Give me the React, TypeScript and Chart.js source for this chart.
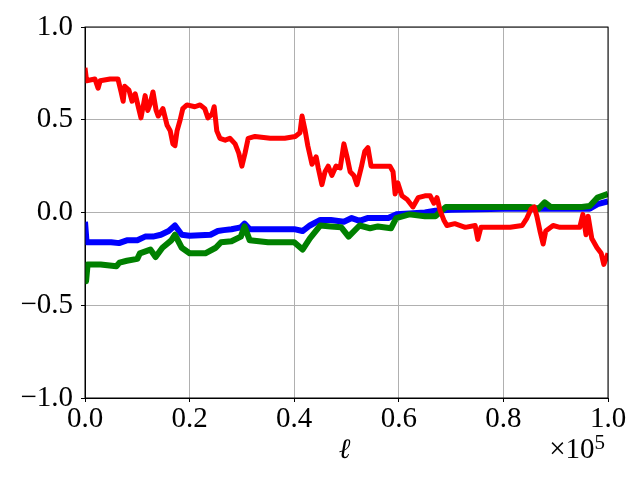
import React, { useEffect, useRef } from "react";
import { Chart, registerables } from "chart.js";

Chart.register(...registerables);

// x positions in units of 10^3 (ℓ / 1000)
const redX = [0, 0.3, 1.9, 2.5, 2.9, 4.8, 6.3, 6.9, 7.3, 7.6, 8.4, 9.0, 9.6, 10.1, 10.7, 11.5, 12.0, 12.4, 13.0, 13.6, 14.0, 14.9, 15.7, 16.3, 16.8, 17.2, 17.6, 18.2, 18.7, 19.5, 21.0, 22.0, 22.9, 23.5, 24.3, 24.7, 25.2, 25.8, 26.8, 27.7, 28.7, 29.4, 30.0, 30.6, 31.2, 32.5, 35.4, 38.2, 40.2, 41.1, 41.5, 42.1, 42.6, 43.4, 44.2, 44.6, 45.3, 45.9, 46.5, 47.2, 48.0, 48.8, 49.5, 50.1, 50.7, 51.4, 52.0, 52.8, 53.5, 54.1, 54.7, 56.4, 58.3, 58.9, 59.3, 59.8, 60.6, 61.6, 62.7, 63.7, 65.0, 66.0, 66.7, 67.3, 67.9, 68.6, 69.2, 70.7, 72.7, 74.6, 75.1, 75.7, 78.4, 81.3, 83.6, 84.5, 85.3, 85.9, 86.4, 87.0, 87.6, 88.1, 89.5, 90.8, 92.7, 94.6, 95.2, 95.8, 96.2, 96.9, 97.9, 98.7, 99.2, 99.6, 100];
const redY = [0.78, 0.71, 0.72, 0.67, 0.71, 0.72, 0.72, 0.65, 0.6, 0.68, 0.66, 0.6, 0.64, 0.58, 0.51, 0.63, 0.55, 0.58, 0.65, 0.55, 0.52, 0.56, 0.47, 0.44, 0.37, 0.36, 0.44, 0.5, 0.56, 0.58, 0.57, 0.58, 0.56, 0.51, 0.53, 0.57, 0.44, 0.4, 0.39, 0.4, 0.37, 0.32, 0.25, 0.32, 0.4, 0.41, 0.4, 0.4, 0.41, 0.43, 0.52, 0.44, 0.36, 0.26, 0.3, 0.24, 0.15, 0.22, 0.25, 0.2, 0.25, 0.24, 0.37, 0.3, 0.22, 0.2, 0.15, 0.24, 0.33, 0.35, 0.25, 0.25, 0.25, 0.22, 0.1, 0.16, 0.09, 0.07, 0.03, 0.08, 0.09, 0.09, 0.05, 0.08, 0.01, -0.04, -0.07, -0.06, -0.08, -0.07, -0.145, -0.08, -0.08, -0.08, -0.07, -0.03, 0.02, 0.03, -0.02, -0.1, -0.17, -0.1, -0.07, -0.08, -0.08, -0.08, -0.01, -0.12, -0.02, -0.14, -0.19, -0.22, -0.28, -0.25, -0.22];

const blueX = [0, 0.3, 5, 6.5, 8, 10, 11.5, 13, 14.5, 16, 17.2, 18.5, 20, 24, 25.4, 26.5, 28, 29.8, 30.5, 31.5, 35, 40, 41.6, 43, 45, 47, 49.5, 51, 52.5, 54, 58, 59.5, 62, 65, 67, 70, 80, 90, 95, 96.5, 98, 100];
const blueY = [-0.05, -0.16, -0.16, -0.165, -0.15, -0.15, -0.13, -0.13, -0.12, -0.1, -0.07, -0.12, -0.125, -0.12, -0.1, -0.095, -0.09, -0.08, -0.06, -0.09, -0.09, -0.09, -0.1, -0.07, -0.04, -0.04, -0.05, -0.03, -0.045, -0.03, -0.03, -0.01, -0.005, 0.0, 0.01, 0.015, 0.02, 0.02, 0.02, 0.02, 0.045, 0.06];

const greenX = [0, 0.2, 0.5, 3, 6, 6.6, 8, 10, 10.5, 12.5, 13.5, 14.8, 16.5, 17.2, 18.5, 20, 23, 25, 26, 28, 29.8, 30.5, 31.5, 35, 40, 41.6, 43, 45, 47, 49, 50.4, 52.5, 54.5, 56, 58.5, 59.5, 62, 65, 67, 69, 75, 80, 85, 86.7, 87.9, 89, 95, 96.5, 98, 100];
const greenY = [-0.3, -0.37, -0.28, -0.28, -0.29, -0.27, -0.26, -0.25, -0.22, -0.2, -0.24, -0.19, -0.15, -0.12, -0.19, -0.22, -0.22, -0.19, -0.16, -0.155, -0.13, -0.075, -0.15, -0.16, -0.16, -0.2, -0.14, -0.07, -0.075, -0.08, -0.13, -0.07, -0.085, -0.075, -0.085, -0.03, -0.01, -0.02, -0.02, 0.03, 0.03, 0.03, 0.03, 0.02, 0.055, 0.03, 0.03, 0.035, 0.08, 0.1];

const xTicks = ["0.0", "0.2", "0.4", "0.6", "0.8", "1.0"];
const yTicks = ["\u22121.0", "\u22120.5", "0.0", "0.5", "1.0"];
const xLabel = "\u2113";
const offsetText = "\u00d710";
const offsetExp = "5";

const FONT = "'Liberation Serif', 'DejaVu Serif', serif";

function pts(xs: number[], ys: number[]) {
  return xs.map((x, i) => ({ x: x * 1000, y: ys[i] }));
}

const extras = {
  id: "extras",
  afterDraw(chart: any) {
    const { ctx, chartArea } = chart;
    ctx.save();
    ctx.strokeStyle = "#000";
    ctx.lineWidth = 1;
    ctx.strokeRect(chartArea.left, chartArea.top, chartArea.right - chartArea.left, chartArea.bottom - chartArea.top);
    ctx.fillStyle = "#000";
    ctx.font = `italic 28px ${FONT}`;
    ctx.textAlign = "center";
    ctx.textBaseline = "alphabetic";
    const cx = (chartArea.left + chartArea.right) / 2;
    ctx.fillText(xLabel, cx - 2, chartArea.bottom + 60);
    ctx.textAlign = "right";
    ctx.font = `21px ${FONT}`;
    const expW = ctx.measureText(offsetExp).width;
    const rightEdge = chartArea.right - 3;
    ctx.fillText(offsetExp, rightEdge, chartArea.bottom + 51);
    ctx.font = `29px ${FONT}`;
    ctx.fillText(offsetText, rightEdge - expW, chartArea.bottom + 60);
    ctx.restore();
  },
};

export default function App() {
  const ref = useRef<HTMLCanvasElement>(null);
  useEffect(() => {
    if (!ref.current) return;
    const chart = new Chart(ref.current, {
      type: "line",
      data: {
        datasets: [
          { label: "blue", data: pts(blueX, blueY), borderColor: "#0000ff", borderWidth: 6, pointRadius: 0, order: 3, borderJoinStyle: "round" },
          { label: "green", data: pts(greenX, greenY), borderColor: "#008000", borderWidth: 6, pointRadius: 0, order: 2, borderJoinStyle: "round" },
          { label: "red", data: pts(redX, redY), borderColor: "#ff0000", borderWidth: 5, pointRadius: 0, order: 1, borderJoinStyle: "round" },
        ],
      },
      options: {
        responsive: false,
        animation: false,
        devicePixelRatio: 1,
        layout: { padding: { top: 27, right: 32, left: 0, bottom: 0 } },
        plugins: { legend: { display: false }, tooltip: { enabled: false } },
        scales: {
          x: {
            type: "linear",
            min: 0,
            max: 100000,
            afterFit: (s: any) => { s.height = 82; },
            ticks: {
              stepSize: 20000,
              maxRotation: 0,
              autoSkip: false,
              color: "#000",
              font: { family: FONT, size: 29 },
              padding: 0,
              callback: (v: any) => xTicks[Math.round(Number(v) / 20000)] ?? "",
            },
            grid: { color: "#b0b0b0", lineWidth: 1, tickColor: "#000", tickLength: 4 },
            border: { color: "#000", width: 1 },
          },
          y: {
            min: -1,
            max: 1,
            afterFit: (s: any) => { s.width = 85; },
            ticks: {
              stepSize: 0.5,
              color: "#000",
              font: { family: FONT, size: 29 },
              padding: 8,
              callback: (v: any) => yTicks[Math.round((Number(v) + 1) / 0.5)] ?? "",
            },
            grid: { color: "#b0b0b0", lineWidth: 1, tickColor: "#000", tickLength: 4 },
            border: { color: "#000", width: 1 },
          },
        },
      },
      plugins: [extras],
    });
    return () => chart.destroy();
  }, []);
  return (
    <div style={{ position: "fixed", left: 0, top: 0, width: 640, height: 480, background: "#fff" }}>
      <canvas ref={ref} width={640} height={480} />
    </div>
  );
}
